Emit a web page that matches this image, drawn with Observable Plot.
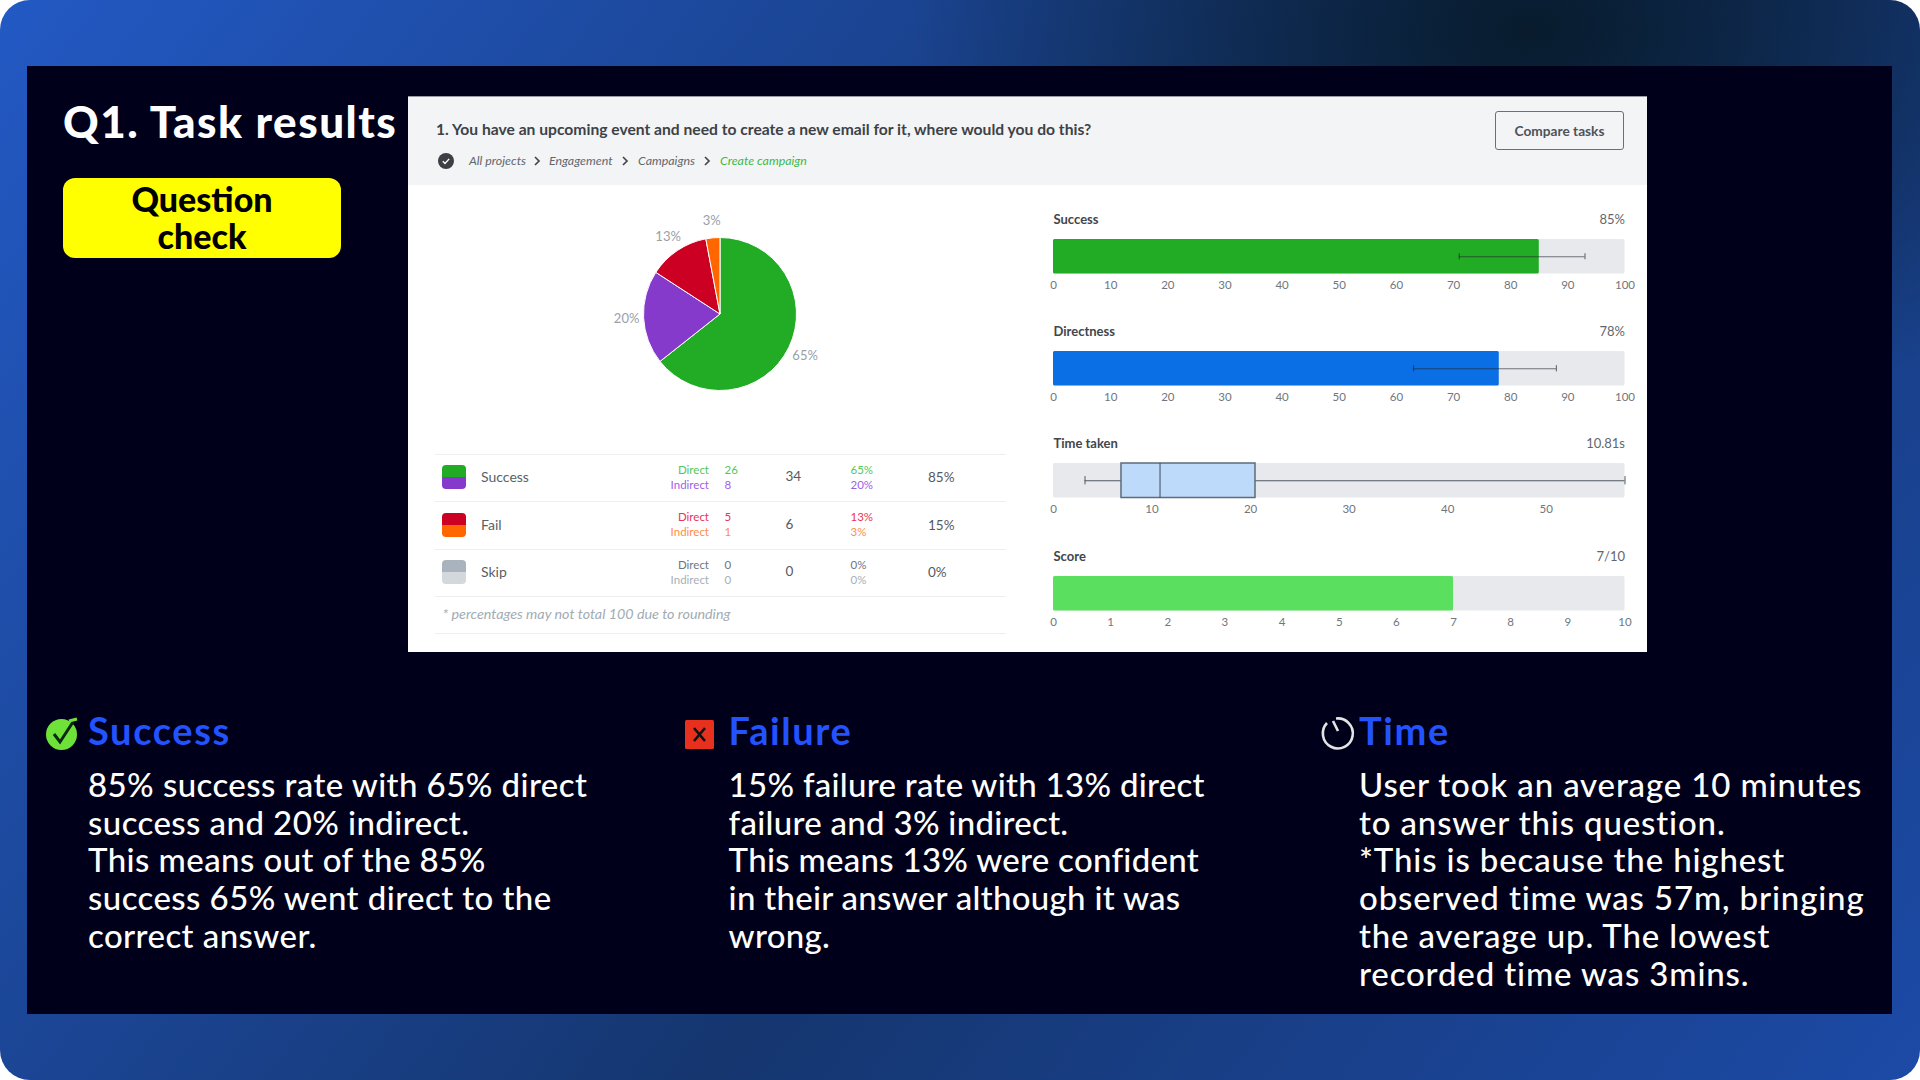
<!DOCTYPE html>
<html>
<head>
<meta charset="utf-8">
<script src="https://cdn.jsdelivr.net/npm/d3@7"></script>
<script src="https://cdn.jsdelivr.net/npm/@observablehq/plot@0.6"></script>
<style>
html,body{margin:0;padding:0;background:#fff;width:1920px;height:1080px;overflow:hidden}
#page{position:relative;width:1920px;height:1080px;border-radius:30px;overflow:hidden;
background:radial-gradient(ellipse 620px 420px at 1530px 30px,rgba(6,24,36,.88),rgba(6,24,36,0)),
linear-gradient(128deg,#2359c4 0%,#15366f 56%,#1c4aa6 100%);font-family:Lato,sans-serif}
#panel{position:absolute;left:27px;top:66px;width:1865px;height:948px;background:#00001a}
#card{position:absolute;left:408px;top:96px;width:1239px;height:556px;background:#fff}
#head{position:absolute;left:408px;top:96px;width:1239px;height:89px;background:#f3f4f6;border-top:1px solid #9a9ca3;box-sizing:border-box}
.t{position:absolute;white-space:pre;transform:translateY(-50%);line-height:1}
.rule{position:absolute;height:1px;background:#eceef0}
.sw{position:absolute;width:24px;height:24px;border-radius:4px}
.body{position:absolute;color:#fff;font-size:33px;line-height:37.7px;white-space:pre;font-weight:500}
.hd{position:absolute;color:#2352ff;font-size:38px;font-weight:700;white-space:pre;line-height:1;letter-spacing:1.6px}
</style>
</head>
<body>
<div id="page">
  <div id="panel"></div><div id="card"></div><div id="head"></div>
</div>
<script>
// ---------- data ----------
const slideTitle = "Q1. Task results";
const badgeLines = ["Question", "check"];
const questionText = "1. You have an upcoming event and need to create a new email for it, where would you do this?";
const crumbs = ["All projects", "Engagement", "Campaigns", "Create campaign"];
const compareLabel = "Compare tasks";

const pieNames = ["Direct success", "Indirect success", "Direct fail", "Indirect fail"];
const pieValues = [65, 20, 13, 3];
const pieColors = ["#22ab24", "#863acb", "#cc0022", "#ff6600"];

const rowNames = ["Success", "Fail", "Skip"];
const rowDirect = [26, 5, 0];
const rowIndirect = [8, 1, 0];
const rowTotals = [34, 6, 0];
const rowDirectPct = ["65%", "13%", "0%"];
const rowIndirectPct = ["20%", "3%", "0%"];
const rowTotalPct = ["85%", "15%", "0%"];
const rowDirectColor = ["#55c65a", "#e8345a", "#6f767d"];
const rowIndirectColor = ["#a05fe2", "#ff8c4a", "#a8afb6"];
const rowSwatchTop = ["#22ab24", "#cc0022", "#a9b3bd"];
const rowSwatchBottom = ["#863acb", "#ff6600", "#d3d8dd"];
const footnote = "* percentages may not total 100 due to rounding";

const successValue = 85, successLow = 71, successHigh = 93;
const directValue = 78, directLow = 63, directHigh = 88;
const timeMin = 3.2, timeQ1 = 6.9, timeMedian = 10.81, timeQ3 = 20.5, timeMax = 58;
const scoreValue = 7;
const percentTicks = [0,10,20,30,40,50,60,70,80,90,100];
const timeTicks = [0,10,20,30,40,50];
const scoreTicks = [0,1,2,3,4,5,6,7,8,9,10];

const columns = [
  {head:"Success", lines:["85% success rate with 65% direct","success and 20% indirect.","This means out of the 85%","success 65% went direct to the","correct answer."]},
  {head:"Failure", lines:["15% failure rate with 13% direct","failure and 3% indirect.","This means 13% were confident","in their answer although it was","wrong."]},
  {head:"Time", lines:["User took an average 10 minutes","to answer this question.","*This is because the highest","observed time was 57m, bringing","the average up. The lowest","recorded time was 3mins."]}
];

// ---------- helpers ----------
const page = document.getElementById("page");
function put(x,y,txt,style={}){
  const d=document.createElement("div");d.className="t";d.textContent=txt;
  d.style.left=x+"px";d.style.top=y+"px";Object.assign(d.style,style);page.appendChild(d);return d;
}
function place(el,left,top){
  el.style.position="absolute";el.style.left=left+"px";el.style.top=top+"px";
  el.style.overflow="visible";el.style.maxWidth="none";page.appendChild(el);
}

// ---------- slide frame text ----------
put(63,121,slideTitle,{color:"#fff",fontSize:"44px",fontWeight:"900",letterSpacing:"1.5px"});
const badge=document.createElement("div");
Object.assign(badge.style,{position:"absolute",left:"63px",top:"178px",width:"278px",height:"80px",background:"#ffff00",borderRadius:"12px"});
page.appendChild(badge);
badgeLines.forEach((s,i)=>{put(202,199+i*37,s,{color:"#000",fontSize:"34px",fontWeight:"900",transform:"translate(-50%,-50%)"});});

// header
put(436,130,questionText,{color:"#3d4247",fontSize:"15.65px",fontWeight:"700"});
const crumbX=[469,549,638,720], chevX=[537,625,707];
crumbs.forEach((c,i)=>put(crumbX[i],161,c,{color:i==3?"#3cb94a":"#62676d",fontSize:"12.4px",fontStyle:"italic"}));
const NS="http://www.w3.org/2000/svg";
function icon(left,top,w,h,markup){
  const s=document.createElementNS(NS,"svg");s.setAttribute("width",w);s.setAttribute("height",h);
  s.style.cssText=`position:absolute;left:${left}px;top:${top}px;overflow:visible`;s.innerHTML=markup;page.appendChild(s);
}
icon(438,153,16,16,`<circle cx="8" cy="8" r="8" fill="#3c4044"/><path d="M4.8 8.3l2.2 2.2 4.2-4.6" fill="none" stroke="#fff" stroke-width="1.4"/>`);
chevX.forEach(x=>icon(x-3,156,7,10,`<path d="M1 1l4 4-4 4" fill="none" stroke="#44484d" stroke-width="1.7"/>`));
const btn=document.createElement("div");
Object.assign(btn.style,{position:"absolute",left:"1495px",top:"111px",width:"129px",height:"39px",border:"1px solid #6c7076",boxSizing:"border-box",borderRadius:"3px",color:"#4e5258",font:"700 13.7px Lato",display:"flex",alignItems:"center",justifyContent:"center"});
btn.textContent=compareLabel;page.appendChild(btn);

// ---------- pie ----------
const pieData = pieNames.map((name,i)=>({name,value:pieValues[i],label:pieValues[i]+"%"}));
const pieR = 76.5, pieLabelR = 94;
const piePlot = Plot.plot({
  width:320,height:260,margin:0,
  x:{domain:[0,d3.sum(pieValues)],range:[0,2*Math.PI],axis:null},
  y:{axis:null},
  color:{domain:pieNames,range:pieColors},
  style:{background:"transparent",fontFamily:"Lato"},
  marks:[
    Plot.barX(pieData,Plot.stackX({x:"value",fill:"name",order:null,
      render(index,scales,values,dims){
        const g=d3.create("svg:g").attr("transform",`translate(${dims.width/2},${dims.height/2})`);
        const arc=d3.arc().innerRadius(0).outerRadius(pieR);
        for(const i of index){
          g.append("path").attr("d",arc({startAngle:values.x1[i],endAngle:values.x2[i]}))
           .attr("fill",values.fill[i]).attr("stroke","#fff").attr("stroke-width",1);
        }
        return g.node();
      }})),
    Plot.text(pieData,Plot.stackX({x:"value",text:"label",order:null,fill:"#9aa0a8",fontSize:13,
      render(index,scales,values,dims,context,next){
        const a=values.x;
        const X=Float64Array.from(a,v=>dims.width/2+pieLabelR*Math.sin(v));
        const Y=Float64Array.from(a,v=>dims.height/2-pieLabelR*Math.cos(v));
        return next(index,scales,{...values,x:X,y:Y},dims,context);
      }}))
  ]
});
place(piePlot,720.4-160,314-130);

// ---------- table ----------
[454,501,549,596,633].forEach(y=>{
  const r=document.createElement("div");r.className="rule";
  r.style.left="435px";r.style.top=y+"px";r.style.width="571px";page.appendChild(r);
});
const rowY=[477,524.5,572];
rowNames.forEach((name,i)=>{
  const y=rowY[i];
  const s=document.createElement("div");s.className="sw";
  s.style.left="442px";s.style.top=(y-12)+"px";
  s.style.background=`linear-gradient(${rowSwatchTop[i]} 50%,${rowSwatchBottom[i]} 50%)`;page.appendChild(s);
  put(481,y,name,{color:"#5a5f65",fontSize:"14px"});
  put(709,y-7.5,"Direct",{color:rowDirectColor[i],fontSize:"11.5px",transform:"translate(-100%,-50%)"});
  put(709,y+7.5,"Indirect",{color:rowIndirectColor[i],fontSize:"11.5px",transform:"translate(-100%,-50%)"});
  put(724.5,y-7.5,String(rowDirect[i]),{color:rowDirectColor[i],fontSize:"11.5px"});
  put(724.5,y+7.5,String(rowIndirect[i]),{color:rowIndirectColor[i],fontSize:"11.5px"});
  put(785.5,y,String(rowTotals[i]),{color:"#55595f",fontSize:"13.5px"});
  put(850.5,y-7.5,rowDirectPct[i],{color:rowDirectColor[i],fontSize:"11.5px"});
  put(850.5,y+7.5,rowIndirectPct[i],{color:rowIndirectColor[i],fontSize:"11.5px"});
  put(928,y+1,rowTotalPct[i],{color:"#55595f",fontSize:"13.5px"});
});
put(442.5,614,footnote,{color:"#a3abb3",fontSize:"14.3px",fontStyle:"italic"});

// ---------- metric panels ----------
const barW = 571.5, barH = 34.5, mL = 22, mR = 28, mT = 34, mB = 26;
function panel(top,title,valueLabel,domain,ticks,marks){
  const track=[{lo:domain[0],hi:domain[1]}];
  const head=[{t:title}], val=[{t:valueLabel}];
  const p=Plot.plot({
    width:barW+mL+mR,height:barH+mT+mB,marginLeft:mL,marginRight:mR,marginTop:mT,marginBottom:mB,
    x:{domain,range:[mL,mL+barW]},
    y:{domain:[0,1],axis:null},
    style:{background:"transparent",fontFamily:"Lato",overflow:"visible"},
    marks:[
      Plot.rectX(track,{x1:"lo",x2:"hi",fill:"#e8e9ed",rx:1.5}),
      ...marks,
      Plot.axisX({ticks,tickSize:0,tickPadding:7,tickFormat:"d",fontSize:11.5,color:"#70767d",label:null}),
      Plot.text(head,{text:"t",frameAnchor:"top-left",dy:-20,fontSize:13,fontWeight:700,fill:"#41464c",textAnchor:"start",lineAnchor:"middle"}),
      Plot.text(val,{text:"t",frameAnchor:"top-right",dy:-20,fontSize:13,fill:"#62676d",textAnchor:"end",lineAnchor:"middle"})
    ]
  });
  place(p,1052.9-mL,top-mT);
}
const errorMarks=(lo,hi)=>{
  const r=[{lo,hi}], caps=[{v:lo},{v:hi}];
  return [
    Plot.ruleY(r,{y:()=>0.5,x1:"lo",x2:"hi",stroke:"#222830",strokeOpacity:.62,strokeWidth:1.2}),
    Plot.ruleX(caps,{x:"v",y1:()=>0.41,y2:()=>0.59,stroke:"#222830",strokeOpacity:.62,strokeWidth:1.2})
  ];
};
const filled=(v,fill)=>Plot.rectX([{lo:0,hi:v}],{x1:"lo",x2:"hi",fill,rx:1.5});

panel(239,"Success",successValue+"%",[0,100],percentTicks,[filled(successValue,"#22ab24"),...errorMarks(successLow,successHigh)]);
panel(351,"Directness",directValue+"%",[0,100],percentTicks,[filled(directValue,"#0a6fe4"),...errorMarks(directLow,directHigh)]);
panel(463.3,"Time taken",timeMedian+"s",[0,timeMax],timeTicks,[
  Plot.ruleY([{lo:timeMin,hi:timeMax}],{y:()=>0.5,x1:"lo",x2:"hi",stroke:"#4f5963",strokeWidth:1}),
  Plot.ruleX([{v:timeMin},{v:timeMax}],{x:"v",y1:()=>0.38,y2:()=>0.62,stroke:"#4f5963",strokeWidth:1}),
  Plot.rectX([{lo:timeQ1,hi:timeQ3}],{x1:"lo",x2:"hi",fill:"#bddafb",stroke:"#5d6b7a",strokeWidth:1.5}),
  Plot.ruleX([{v:timeMedian}],{x:"v",stroke:"#3f4a55",strokeWidth:1})
]);
panel(575.5,"Score",scoreValue+"/10",[0,10],scoreTicks,[filled(scoreValue,"#5ae05e")]);

// ---------- commentary ----------
const colX=[88,728.6,1359];
const colSpacing=[.42,.28,.85];
columns.forEach((c,i)=>{
  const h=document.createElement("div");h.className="hd";h.textContent=c.head;
  h.style.left=colX[i]+"px";h.style.top="711px";page.appendChild(h);
  const b=document.createElement("div");b.className="body";b.textContent=c.lines.join("\n");
  b.style.left=colX[i]+"px";b.style.top="766px";b.style.letterSpacing=colSpacing[i]+"px";page.appendChild(b);
});
icon(45,717,34,34,`<circle cx="16.5" cy="17.5" r="15.5" fill="#6fe23a"/><path d="M9 17l6 8 13-20" fill="none" stroke="#0b2a12" stroke-width="3"/><path d="M24 4l8-2" stroke="#6fe23a" stroke-width="3"/>`);
icon(685,720,29,29,`<rect width="29" height="29" rx="1.5" fill="#e8301f"/><path d="M9 8l11 13M20 8l-11 13" stroke="#111" stroke-width="2.6"/>`);
icon(1319,713,36,36,`<path d="M15 3.5 A15 15 0 1 1 6 8" transform="translate(2,2)" fill="none" stroke="#e4e4e4" stroke-width="2.6"/><path d="M14 8 l5 10" stroke="#e4e4e4" stroke-width="2.6"/>`);
</script>
</body>
</html>
